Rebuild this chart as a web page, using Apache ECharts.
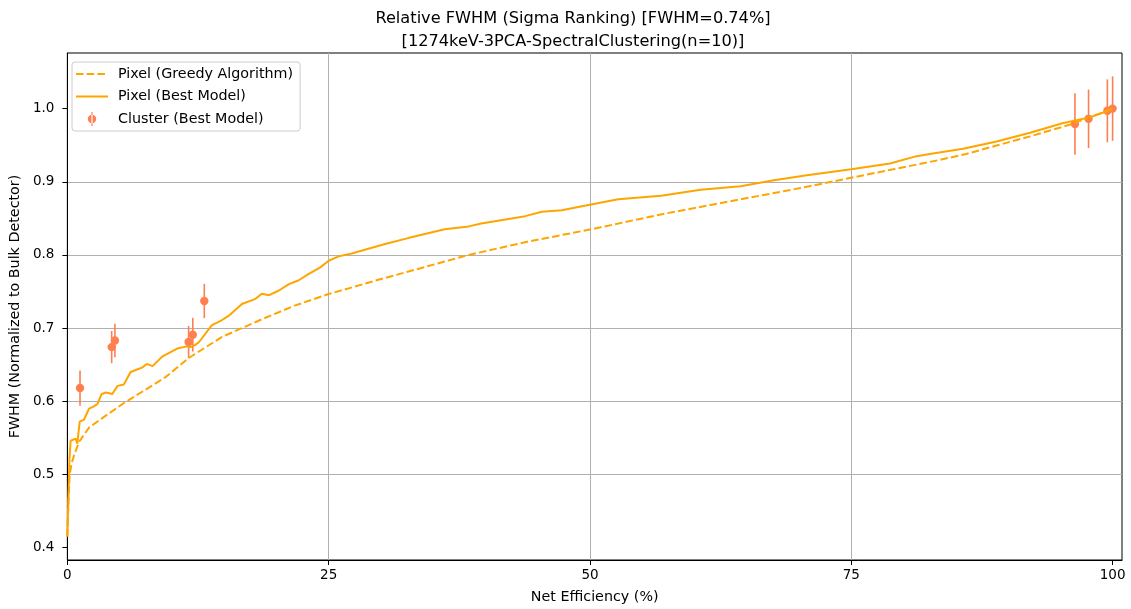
<!DOCTYPE html>
<html>
<head>
<meta charset="utf-8">
<script src="https://cdn.jsdelivr.net/npm/echarts@6/dist/echarts.min.js"></script>
<style>
  html, body { margin: 0; padding: 0; background: #fff; }
  #chart { width: 1131px; height: 609px; }
</style>
</head>
<body>
<div id="chart"></div>
<script>
// Pixel-level curve from the greedy selection
const greedyEff  = [0, 0.1, 0.22, 0.4, 0.64, 1.1, 2.07, 3.34, 5.25, 7.5, 9.4, 11.6, 14.8, 18.6, 21.8, 25, 30, 38.4, 44, 50.1, 57, 64.4, 70, 75, 79, 83.5, 86, 88.9, 92.1, 95.9, 98, 100];
const greedyFwhm = [0.415, 0.46, 0.499, 0.515, 0.526, 0.544, 0.564, 0.577, 0.596, 0.616, 0.633, 0.659, 0.688, 0.712, 0.731, 0.7465, 0.767, 0.800, 0.818, 0.835, 0.856, 0.876, 0.891, 0.9055, 0.917, 0.930, 0.938, 0.9495, 0.962, 0.978, 0.989, 1.0];

// Pixel-level curve from the best model ranking
const bestEff  = [0, 0.1, 0.2, 0.31, 0.79, 0.95, 1.18, 1.6, 2.07, 2.4, 2.87, 3.28, 3.7, 4.3, 4.8, 5.4, 6.05, 6.6, 7.15, 7.6, 8.15, 9.07, 9.6, 10.5, 11.45, 11.8, 12.24, 12.6, 13.83, 14.8, 15.45, 16.7, 18, 18.6, 19.3, 20.2, 21.2, 22.1, 23.1, 24.2, 25, 25.95, 27.2, 30.4, 32.6, 36.1, 38.4, 39.6, 43.8, 45.4, 47.3, 50.1, 52.7, 56.8, 60.6, 64.4, 67.6, 70.75, 75, 78.7, 81.25, 82.5, 85.7, 88.9, 92.1, 95.2, 97.8, 99.4, 100];
const bestFwhm = [0.415, 0.47, 0.52, 0.546, 0.549, 0.542, 0.572, 0.575, 0.59, 0.592, 0.596, 0.61, 0.612, 0.61, 0.621, 0.623, 0.64, 0.643, 0.646, 0.651, 0.648, 0.661, 0.665, 0.672, 0.675, 0.674, 0.677, 0.681, 0.704, 0.711, 0.717, 0.733, 0.740, 0.747, 0.745, 0.751, 0.760, 0.765, 0.774, 0.783, 0.792, 0.798, 0.802, 0.815, 0.823, 0.835, 0.839, 0.843, 0.853, 0.859, 0.861, 0.869, 0.876, 0.881, 0.889, 0.894, 0.902, 0.909, 0.917, 0.925, 0.935, 0.938, 0.945, 0.955, 0.967, 0.980, 0.988, 0.996, 1.0];

// Cluster-level results with their uncertainties
const clusterEff  = [1.21, 4.24, 4.55, 11.6, 12.0, 13.1, 96.4, 97.7, 99.5, 100.0];
const clusterFwhm = [0.618, 0.674, 0.683, 0.681, 0.691, 0.737, 0.979, 0.986, 0.997, 1.0];
const clusterErr  = [0.024, 0.022, 0.023, 0.022, 0.023, 0.0235, 0.042, 0.040, 0.043, 0.044];

const xTicks = [0, 25, 50, 75, 100];
const yTicks = [0.4, 0.5, 0.6, 0.7, 0.8, 0.9, 1.0];

const titleText = 'Relative FWHM (Sigma Ranking) [FWHM=0.74%]\n[1274keV-3PCA-SpectralClustering(n=10)]';
const xName = 'Net Efficiency (%)';
const yName = 'FWHM (Normalized to Bulk Detector)';
const names = ['Pixel (Greedy Algorithm)', 'Pixel (Best Model)', 'Cluster (Best Model)'];

const FONT = 'DejaVu Sans';
const ORANGE = '#ffa500';
const CORAL = '#ff7f50';

const zip = (a, b) => a.map((v, i) => [v, b[i]]);

const chart = echarts.init(document.getElementById('chart'), null, { renderer: 'canvas' });

const axisCommon = {
  axisLine: { show: true, lineStyle: { color: '#000', width: 1 } },
  splitLine: { show: true, showMinLine: false, showMaxLine: false, lineStyle: { color: '#b0b0b0', width: 1 } },
  nameTextStyle: { color: '#000', fontSize: 14.3, fontFamily: FONT }
};

// line entries in the legend show only the stroke, no marker
const hiddenMarker = { opacity: 0, color: 'rgba(0,0,0,0)', borderWidth: 0 };

chart.setOption({
  animation: false,
  backgroundColor: '#fff',
  title: {
    text: titleText,
    left: 573,
    top: 7,
    padding: 0,
    textAlign: 'center',
    textStyle: { color: '#000', fontSize: 16.2, fontWeight: 'normal', fontFamily: FONT, lineHeight: 23 }
  },
  grid: {
    left: 65, right: 9, top: 53, bottom: 48,
    show: true, borderColor: '#000', borderWidth: 1, backgroundColor: '#fff'
  },
  legend: {
    orient: 'vertical',
    left: 72, top: 62,
    padding: [5, 7, 5, 3],
    itemWidth: 32, itemHeight: 14, itemGap: 8.5,
    backgroundColor: '#fff',
    borderColor: '#cccccc', borderWidth: 1, borderRadius: 3,
    textStyle: { color: '#000', fontSize: 14.3, fontFamily: FONT, padding: [0, 0, 0, 5] },
    data: [
      { name: names[0], itemStyle: hiddenMarker },
      { name: names[1], itemStyle: hiddenMarker },
      { name: names[2], icon: 'path://M3.4,0 L4.6,0 L4.6,14 L3.4,14 Z M-0.2,7 A4.2,4.2 0 1,0 8.2,7 A4.2,4.2 0 1,0 -0.2,7 Z' }
    ]
  },
  xAxis: Object.assign({}, axisCommon, {
    type: 'value',
    min: 0, max: 100.9, interval: 25,
    name: xName, nameLocation: 'middle', nameGap: 30,
    axisTick: { show: true, length: 5, customValues: xTicks, lineStyle: { color: '#000' } },
    axisLabel: { color: '#000', fontSize: 13.5, fontFamily: FONT, margin: 8, customValues: xTicks,
      formatter: v => String(v) }
  }),
  yAxis: Object.assign({}, axisCommon, {
    type: 'value',
    min: 0.383, max: 1.076,
    name: yName, nameLocation: 'middle', nameGap: 41, nameRotate: 90,
    axisTick: { show: true, length: 5, customValues: yTicks, lineStyle: { color: '#000' } },
    axisLabel: { color: '#000', fontSize: 13.5, fontFamily: FONT, margin: 13, customValues: yTicks,
      formatter: v => v.toFixed(1) }
  }),
  series: [
    {
      name: names[0],
      type: 'line',
      symbol: 'none',
      data: zip(greedyEff, greedyFwhm),
      lineStyle: { color: ORANGE, width: 2, type: [7.5, 3.2] },
      itemStyle: { color: ORANGE }
    },
    {
      name: names[1],
      type: 'line',
      symbol: 'none',
      data: zip(bestEff, bestFwhm),
      lineStyle: { color: ORANGE, width: 2 },
      itemStyle: { color: ORANGE }
    },
    {
      name: names[2],
      type: 'custom',
      itemStyle: { color: CORAL },
      data: clusterEff.map((x, i) => [x, clusterFwhm[i], clusterErr[i]]),
      encode: { x: 0, y: 1 },
      renderItem: function (params, api) {
        const x = api.value(0), y = api.value(1), e = api.value(2);
        const c = api.coord([x, y]);
        const hi = api.coord([x, y + e]);
        const lo = api.coord([x, y - e]);
        return {
          type: 'group',
          children: [
            { type: 'line', shape: { x1: c[0], y1: hi[1], x2: c[0], y2: lo[1] },
              style: { stroke: CORAL, lineWidth: 1.6 } },
            { type: 'circle', shape: { cx: c[0], cy: c[1], r: 4.2 },
              style: { fill: CORAL } }
          ]
        };
      }
    }
  ]
});
</script>
</body>
</html>
